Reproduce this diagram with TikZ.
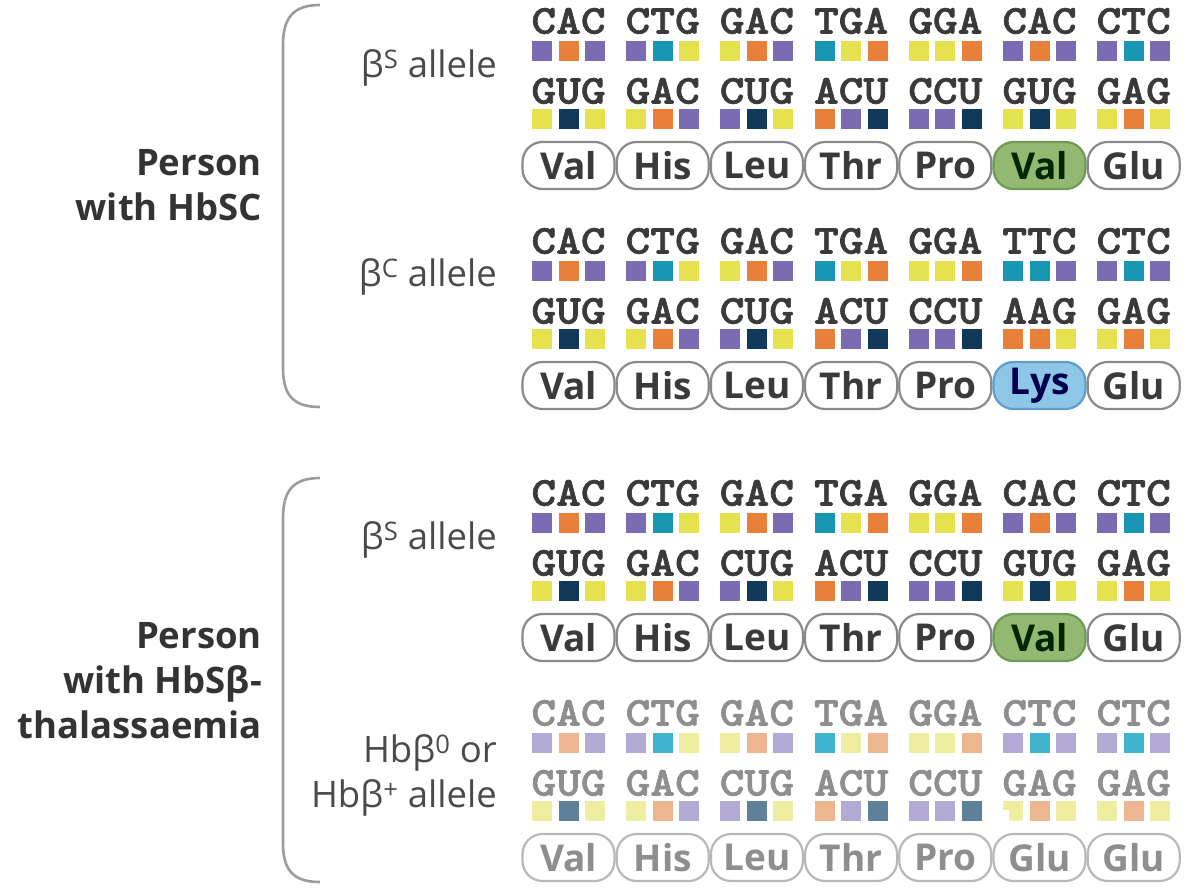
\documentclass[tikz,border=0pt]{standalone}
\usepackage{fontspec}
\setmainfont{Open Sans}
\newfontfamily\codonfont{lmmonolt10-bold.otf}[FakeStretch=1.15, FakeBold=1.6]
\definecolor{nC}{HTML}{7B6BB3}
\definecolor{nA}{HTML}{E8803A}
\definecolor{nT}{HTML}{1797B3}
\definecolor{nG}{HTML}{E6E14E}
\definecolor{nU}{HTML}{10395A}
\definecolor{fC}{HTML}{B2AAD5}
\definecolor{fA}{HTML}{EDB68F}
\definecolor{fT}{HTML}{40B3CE}
\definecolor{fG}{HTML}{EEEDA0}
\definecolor{fU}{HTML}{5E8199}
\definecolor{ntext}{HTML}{3A3A3A}
\definecolor{ftext}{HTML}{8E8E8E}
\definecolor{npill}{HTML}{8A8A8A}
\definecolor{fpill}{HTML}{B8B8B8}
\definecolor{labeltext}{HTML}{4A4A4A}
\definecolor{bracketgrey}{HTML}{9C9C9C}
\definecolor{greenfill}{HTML}{93B872}
\definecolor{greendraw}{HTML}{6F9A55}
\definecolor{bluefill}{HTML}{8DC6E6}
\definecolor{bluedraw}{HTML}{5E9EC8}
\tikzset{
  codon/.style={font=\codonfont\fontsize{41}{41}\selectfont, inner sep=0pt},
  pill/.style={rounded corners=20pt, minimum width=92pt, minimum height=47pt, inner sep=0pt,
    line width=2.2pt, font=\bfseries\fontsize{37}{37}\selectfont},
  pl/.style={pill, draw=npill, fill=white, text=ntext},
  fpl/.style={pill, draw=fpill, fill=white, text=ftext},
  gr/.style={pill, draw=greendraw, fill=greenfill, text=black!85!green},
  bl/.style={pill, draw=bluedraw, fill=bluefill, text=blue!30!black},
  bracket/.style={draw=bracketgrey, line width=2.6pt},
  biglabel/.style={anchor=east, align=right, inner sep=0pt, text=black!80,
    font=\bfseries\fontsize{36.5}{45}\selectfont},
  allelelabel/.style={anchor=east, align=right, inner sep=0pt, text=labeltext,
    font=\fontsize{36.5}{45}\selectfont},
}
\newcommand\drawblock[4]{%
  \foreach \xa/\xb/\xc/\ya/\yb/\yc/\am/\st [count=\k] in {#4} {
    \pgfmathsetmacro\cx{532+94.2*(\k-1)}
    \node[codon, text=#3text] (#1t\k) at (\cx+36.5, #2+21) {\xa\xb\xc};
    \node[codon, text=#3text] (#1b\k) at (\cx+36.5, #2+91) {\ya\yb\yc};
    \fill[fill=#3\xa] (\cx, #2+41) rectangle ++(20,20);
    \fill[fill=#3\xb] (\cx+26.5, #2+41) rectangle ++(20,20);
    \fill[fill=#3\xc] (\cx+53, #2+41) rectangle ++(20,20);
    \fill[fill=#3\ya] (\cx, #2+109) rectangle ++(20,20);
    \fill[fill=#3\yb] (\cx+26.5, #2+109) rectangle ++(20,20);
    \fill[fill=#3\yc] (\cx+53, #2+109) rectangle ++(20,20);
    \node[\st] (#1p\k) at (\cx+36.5, #2+165.5) {\am};
  }%
}
\begin{document}
\begin{tikzpicture}[x=1pt, y=-1pt]
\useasboundingbox (0,0) rectangle (1199,889);
% brackets
\draw[bracket] (320,5) .. controls (293,5) and (283,18) .. (283,45) -- (283,368) .. controls (283,395) and (293,407) .. (320,407);
\draw[bracket] (320,478) .. controls (293,478) and (283,491) .. (283,518) -- (283,843) .. controls (283,870) and (293,882) .. (320,882);
% labels
\node[biglabel] (hbsc) at (262,185) {Person\\with HbSC};
\node[biglabel] (hbsthal) at (262,681) {Person\\with HbSβ-\\thalassaemia};
\node[allelelabel] (bs1) at (497,68) {β\textsuperscript{S} allele};
\node[allelelabel] (bc) at (497,277) {β\textsuperscript{C} allele};
\node[allelelabel] (bs2) at (497,540) {β\textsuperscript{S} allele};
\node[allelelabel] (bth) at (497,775) {Hbβ\textsuperscript{0} or\\Hbβ\textsuperscript{+} allele};
% codon blocks
\drawblock{A}{0}{n}{C/A/C/G/U/G/Val/pl, C/T/G/G/A/C/His/pl, G/A/C/C/U/G/Leu/pl, T/G/A/A/C/U/Thr/pl, G/G/A/C/C/U/Pro/pl, C/A/C/G/U/G/Val/gr, C/T/C/G/A/G/Glu/pl}
\drawblock{B}{220}{n}{C/A/C/G/U/G/Val/pl, C/T/G/G/A/C/His/pl, G/A/C/C/U/G/Leu/pl, T/G/A/A/C/U/Thr/pl, G/G/A/C/C/U/Pro/pl, T/T/C/A/A/G/Lys/bl, C/T/C/G/A/G/Glu/pl}
\drawblock{C}{472}{n}{C/A/C/G/U/G/Val/pl, C/T/G/G/A/C/His/pl, G/A/C/C/U/G/Leu/pl, T/G/A/A/C/U/Thr/pl, G/G/A/C/C/U/Pro/pl, C/A/C/G/U/G/Val/gr, C/T/C/G/A/G/Glu/pl}
\drawblock{D}{692}{f}{C/A/C/G/U/G/Val/fpl, C/T/G/G/A/C/His/fpl, G/A/C/C/U/G/Leu/fpl, T/G/A/A/C/U/Thr/fpl, G/G/A/C/C/U/Pro/fpl, C/T/C/G/A/G/Glu/fpl, C/T/C/G/A/G/Glu/fpl}
\fill[white] (983,810) rectangle (1009,832);
\end{tikzpicture}
\end{document}
